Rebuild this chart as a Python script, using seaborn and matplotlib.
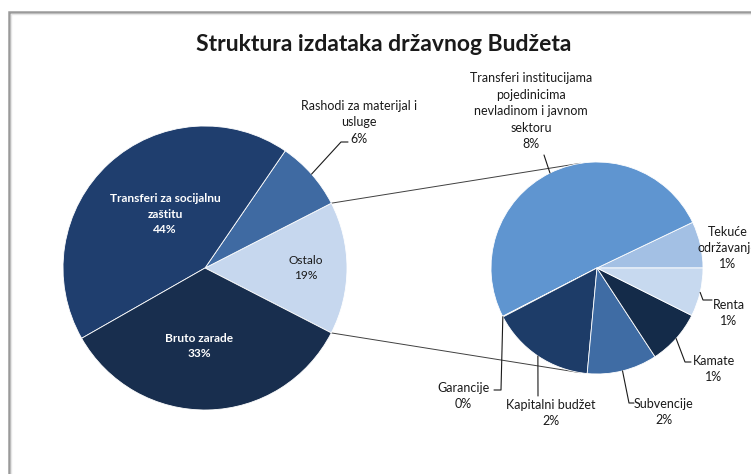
import numpy as np
import matplotlib
matplotlib.use("Agg")
import matplotlib.pyplot as plt
import seaborn as sns

W, H = 751, 474

# Main pie (counter-clockwise from the "Ostalo" slice)
main_labels = ["Ostalo", "Rashodi za materijal i\nusluge", "Transferi za socijalnu\nzaštitu", "Bruto zarade"]
main_share = [15.1, 7.9, 42.8, 34.2]
main_pct = ["19%", "6%", "44%", "33%"]
main_colors = ["#C6D7EE", "#3F6AA2", "#1F3E6E", "#182E4E"]

# Secondary pie, breakdown of "Ostalo" (counter-clockwise from 0 deg)
sub_labels = ["Tekuće\nodržavanje", "Transferi institucijama\npojedinicima\nnevladinom i javnom\nsektoru",
              "Garancije", "Kapitalni budžet", "Subvencije", "Kamate", "Renta"]
sub_share = [7.1, 50.5, 0.1, 15.9, 10.7, 8.4, 7.4]
sub_pct = ["1%", "8%", "0%", "2%", "2%", "1%", "1%"]
sub_colors = ["#A3C0E4", "#5F95D0", "#2A4F80", "#1D3C68", "#3F6CA4", "#142B49", "#C7D9EF"]


def fy(y):
    # picture y (from top) -> axis y
    return H - y


def edge_point(wedge, frac=1.0):
    ang = np.deg2rad((wedge.theta1 + wedge.theta2) / 2)
    cx, cy = wedge.center
    return cx + wedge.r * frac * np.cos(ang), cy + wedge.r * frac * np.sin(ang)


sns.set_style("white")
plt.rcParams['font.family'] = ['Lato', 'DejaVu Sans']

fig = plt.figure(figsize=(W / 100, H / 100), dpi=100)
ax = fig.add_axes([0, 0, 1, 1])

main_c, main_r = (205, fy(268)), 142
sub_c, sub_r = (597, fy(268)), 106

wedges_main, _ = ax.pie(main_share, colors=main_colors, startangle=-27.2, counterclock=True,
                        center=main_c, radius=main_r, frame=True,
                        wedgeprops=dict(edgecolor="white", linewidth=0.6))
wedges_sub, _ = ax.pie(sub_share, colors=sub_colors, startangle=0, counterclock=True,
                       center=sub_c, radius=sub_r, frame=True,
                       wedgeprops=dict(edgecolor="white", linewidth=0.6))

# connector lines: ends of the "Ostalo" slice, tangent to the secondary pie
ost = wedges_main[0]
for theta, side in [(ost.theta2, 1), (ost.theta1, -1)]:
    px = main_c[0] + main_r * np.cos(np.deg2rad(theta))
    py = main_c[1] + main_r * np.sin(np.deg2rad(theta))
    dx, dy = px - sub_c[0], py - sub_c[1]
    d = np.hypot(dx, dy)
    base = np.arctan2(dy, dx)
    a = base - side * np.arccos(sub_r / d)
    tx, ty = sub_c[0] + sub_r * np.cos(a), sub_c[1] + sub_r * np.sin(a)
    ax.plot([px, tx], [py, ty], color="#404040", lw=0.7, zorder=0.5)

txt = dict(fontsize=9, ha="center", va="center", linespacing=1.45)

# labels inside the main pie
inside_pos = {0: (306, 268), 2: (165, 214), 3: (199, 346)}
for i, (x, y) in inside_pos.items():
    col = "#1A1A1A" if i == 0 else "white"
    ax.text(x, fy(y), f"{main_labels[i]}\n{main_pct[i]}", color=col,
            fontweight="bold" if i else "normal", **{**txt, "fontsize": 8.6})

# "Rashodi" label with leader
sx, sy = edge_point(wedges_main[1])
ax.plot([sx, 341, 348], [sy, fy(142), fy(142)], color="#1A1A1A", lw=0.8)
ax.text(359, fy(122), f"{main_labels[1]}\n{main_pct[1]}", color="#1A1A1A", **txt)

# secondary labels: text centre and leader elbows (picture coords)
sub_layout = {
    0: ((728, 248), []),
    1: ((531, 111), [(544, 155)]),
    2: ((463, 396), [(501, 390), (494, 390)]),
    3: ((551, 413), [(538, 396)]),
    4: ((664, 412), [(629, 403), (634, 403)]),
    5: ((714, 369), [(685, 362), (691, 362)]),
    6: ((729, 313), [(703, 300), (712, 300)]),
}
for i, ((x, y), elbows) in sub_layout.items():
    ax.text(x, fy(y), f"{sub_labels[i]}\n{sub_pct[i]}", color="#1A1A1A", **txt)
    if elbows:
        sx, sy = edge_point(wedges_sub[i])
        xs = [sx] + [e[0] for e in elbows]
        ys = [sy] + [fy(e[1]) for e in elbows]
        ax.plot(xs, ys, color="#1A1A1A", lw=0.8)

ax.text(384, fy(44), "Struktura izdataka državnog Budžeta", fontsize=16.5, fontweight="bold",
        ha="center", va="center", color="#1A1A1A")

# chart frame (top and left edges visible)
ax.plot([8.5, 8.5, W + 5], [-5, fy(11.5), fy(11.5)], color="#9A9A9A", lw=1.8,
        solid_joinstyle="miter")
ax.plot([10.5, 10.5, W + 5], [-5, fy(13.5), fy(13.5)], color="#E6E6E6", lw=1.0)

ax.set_xlim(0, W)
ax.set_ylim(0, H)
ax.set_aspect("equal")
ax.axis("off")

fig.savefig("out.png", dpi=100, facecolor="white")
